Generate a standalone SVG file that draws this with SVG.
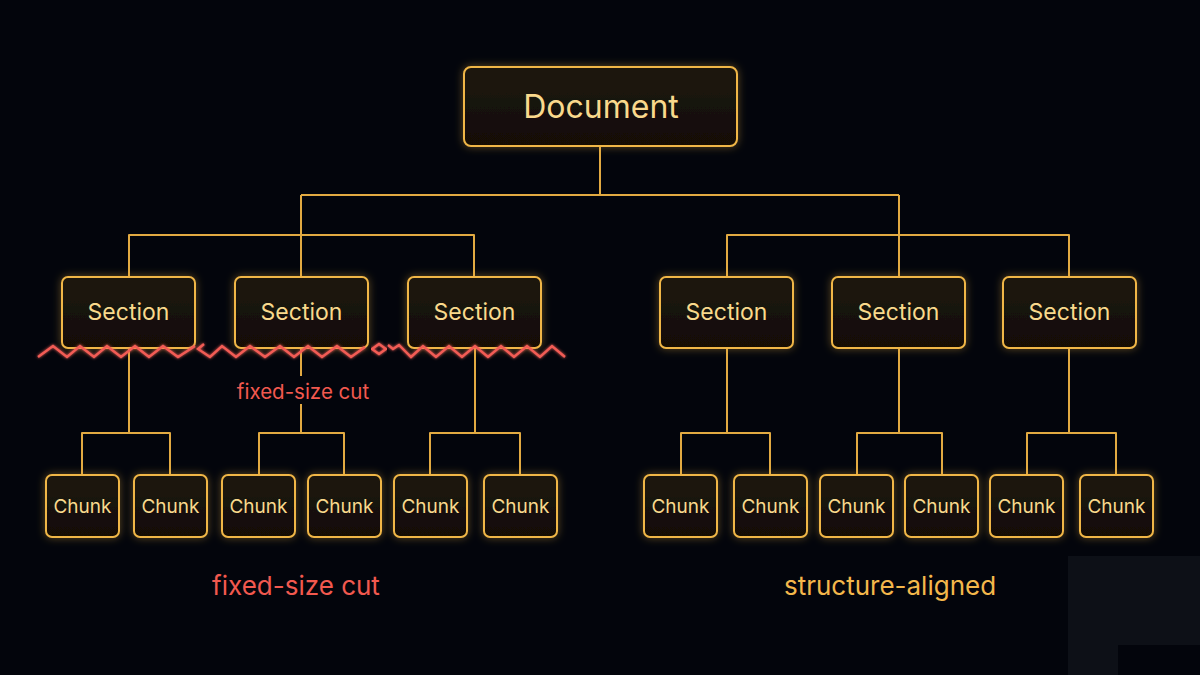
<svg xmlns="http://www.w3.org/2000/svg" width="1200" height="675" viewBox="0 0 1200 675">
<defs>
<linearGradient id="boxfill" x1="0" y1="0" x2="0" y2="1">
<stop offset="0" stop-color="#1e170b"/>
<stop offset="1" stop-color="#120d06"/>
</linearGradient>
<filter id="glow" x="-20%" y="-20%" width="140%" height="140%">
<feGaussianBlur in="SourceAlpha" stdDeviation="4" result="b"/>
<feFlood flood-color="#e8ad3c" flood-opacity="0.4"/>
<feComposite in2="b" operator="in" result="g"/>
<feMerge><feMergeNode in="g"/><feMergeNode in="SourceGraphic"/></feMerge>
</filter>
<filter id="redglow" x="-5%" y="-50%" width="110%" height="200%">
<feGaussianBlur in="SourceGraphic" stdDeviation="1.5" result="b"/>
<feMerge><feMergeNode in="b"/><feMergeNode in="SourceGraphic"/></feMerge>
</filter>
</defs>
<style>
.box{fill:url(#boxfill);stroke:#f0b646;stroke-width:2;filter:url(#glow)}
.lbl{font-family:Inter,"Liberation Sans",sans-serif;fill:#f9d98c;text-anchor:middle;dominant-baseline:central}
.doc{font-size:32px}
.sec{font-size:23px}
.chk{font-size:19px}
.wire{fill:none;stroke:#e2aa42;stroke-width:2;stroke-linejoin:round}
.zig{fill:none;stroke:#f25c55;stroke-width:2.4;stroke-linejoin:miter;filter:url(#redglow)}
.red{font-family:Inter,"Liberation Sans",sans-serif;fill:#f2594f;text-anchor:middle;dominant-baseline:central}
.amb{font-family:Inter,"Liberation Sans",sans-serif;fill:#f4b74b;text-anchor:middle;dominant-baseline:central}
</style>
<rect width="1200" height="675" fill="#03050c"/>
<rect x="1068" y="556" width="132" height="119" fill="#0d1017"/>
<rect x="1118" y="645" width="82" height="30" fill="#03050c"/>

<g id="connectors">
<path class="wire" d="M600 146 V195 M301 195 H899 M301 195 V235 M899 195 V235 M129 277 V235 H474 V277 M301 235 V277 M727 277 V235 H1069 V277 M899 235 V277"/>
<path class="wire" d="M129 348 V433 M82 475 V433 H170 V475"/>
<path class="wire" d="M301 348 V376 M301 404 V433 M259 475 V433 H344 V475"/>
<path class="wire" d="M475 348 V433 M430 475 V433 H520 V475"/>
<path class="wire" d="M727 348 V433 M681 475 V433 H770 V475"/>
<path class="wire" d="M899 348 V433 M857 475 V433 H942 V475"/>
<path class="wire" d="M1069 348 V433 M1027 475 V433 H1116 V475"/>
</g>

<g id="document"><rect class="box" x="464" y="67" width="273" height="79" rx="7"/><text class="lbl doc" x="601" y="106">Document</text></g>

<g id="section-l1"><rect class="box" x="62" y="277" width="133" height="71" rx="6"/><text class="lbl sec" x="128.5" y="312">Section</text></g>
<g id="section-l2"><rect class="box" x="235" y="277" width="133" height="71" rx="6"/><text class="lbl sec" x="301.5" y="312">Section</text></g>
<g id="section-l3"><rect class="box" x="408" y="277" width="133" height="71" rx="6"/><text class="lbl sec" x="474.5" y="312">Section</text></g>
<g id="section-r1"><rect class="box" x="660" y="277" width="133" height="71" rx="6"/><text class="lbl sec" x="726.5" y="312">Section</text></g>
<g id="section-r2"><rect class="box" x="832" y="277" width="133" height="71" rx="6"/><text class="lbl sec" x="898.5" y="312">Section</text></g>
<g id="section-r3"><rect class="box" x="1003" y="277" width="133" height="71" rx="6"/><text class="lbl sec" x="1069.5" y="312">Section</text></g>

<g id="chunk-1"><rect class="box" x="46" y="475" width="73" height="62" rx="6"/><text class="lbl chk" x="82.5" y="506">Chunk</text></g>
<g id="chunk-2"><rect class="box" x="134" y="475" width="73" height="62" rx="6"/><text class="lbl chk" x="170.5" y="506">Chunk</text></g>
<g id="chunk-3"><rect class="box" x="222" y="475" width="73" height="62" rx="6"/><text class="lbl chk" x="258.5" y="506">Chunk</text></g>
<g id="chunk-4"><rect class="box" x="308" y="475" width="73" height="62" rx="6"/><text class="lbl chk" x="344.5" y="506">Chunk</text></g>
<g id="chunk-5"><rect class="box" x="394" y="475" width="73" height="62" rx="6"/><text class="lbl chk" x="430.5" y="506">Chunk</text></g>
<g id="chunk-6"><rect class="box" x="484" y="475" width="73" height="62" rx="6"/><text class="lbl chk" x="520.5" y="506">Chunk</text></g>
<g id="chunk-7"><rect class="box" x="644" y="475" width="73" height="62" rx="6"/><text class="lbl chk" x="680.5" y="506">Chunk</text></g>
<g id="chunk-8"><rect class="box" x="734" y="475" width="73" height="62" rx="6"/><text class="lbl chk" x="770.5" y="506">Chunk</text></g>
<g id="chunk-9"><rect class="box" x="820" y="475" width="73" height="62" rx="6"/><text class="lbl chk" x="856.5" y="506">Chunk</text></g>
<g id="chunk-10"><rect class="box" x="905" y="475" width="73" height="62" rx="6"/><text class="lbl chk" x="941.5" y="506">Chunk</text></g>
<g id="chunk-11"><rect class="box" x="990" y="475" width="73" height="62" rx="6"/><text class="lbl chk" x="1026.5" y="506">Chunk</text></g>
<g id="chunk-12"><rect class="box" x="1080" y="475" width="73" height="62" rx="6"/><text class="lbl chk" x="1116.5" y="506">Chunk</text></g>

<g id="cut-line">
<polyline class="zig" points="38,357 53,346 67,357 80,346 94,357 107,346 121,357 135,346 149,357 163,346 178,357 195,346"/>
<polyline class="zig" points="204,344 198,349 210,357 222,346 236,357 250,346 265,357 280,346 294,357 308,346 322,357 337,346 351,357 365,347"/>
<polygon class="zig" points="372,349 379,344 386,349 379,354"/>
<polyline class="zig" points="388,345 393,349 399,345 411,357 423,346 436,357 449,346 462,357 475,346 488,357 501,346 514,357 527,346 540,357 552,346 565,357"/>
</g>

<text class="red" x="303" y="391" font-size="20.5">fixed-size cut</text>
<text class="red" x="296" y="585" font-size="26">fixed-size cut</text>
<text class="amb" x="890" y="585" font-size="26">structure-aligned</text>
</svg>
